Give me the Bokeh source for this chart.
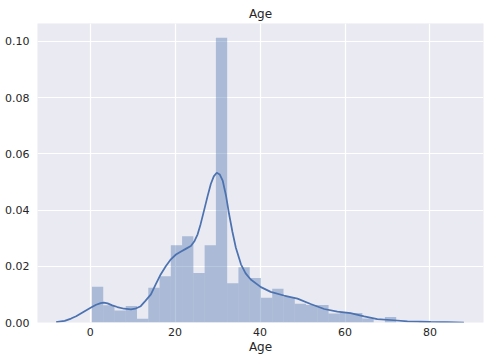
import numpy as np
from bokeh.plotting import figure
from bokeh.models import Range1d, FixedTicker, NumeralTickFormatter
from bokeh.embed import file_html
from bokeh.resources import INLINE

# Histogram (density) of Age, 30 bins from 0.42 to 80
bin_min = 0.42
bin_max = 80.0
n_bins = 30
density = [0.0127, 0.0061, 0.0043, 0.0059, 0.0013, 0.0124, 0.0165, 0.0275, 0.0307, 0.0176,
           0.0275, 0.1013, 0.0140, 0.0197, 0.0158, 0.0088, 0.0120, 0.0091, 0.0067, 0.0062,
           0.0062, 0.0032, 0.0035, 0.0034, 0.0014, 0.0, 0.0020, 0.0, 0.0, 0.0004]

# KDE curve
kde_x = [-8.0, -7.7, -6.0, -4.5, -3.3, -2.2, -1.0, 0.2, 1.4, 2.5, 3.2, 4.1, 5.2, 6.4, 8.0, 9.6,
         10.6, 11.9, 13.0, 14.3, 15.4, 16.6, 17.8, 19.0, 20.2, 21.3, 22.5, 23.7, 24.5, 25.3,
         26.0, 26.8, 27.6, 28.4, 29.1, 29.8, 30.5, 31.2, 32.0, 32.7, 33.5, 34.3, 35.5, 36.6,
         37.8, 40.2, 42.5, 45.6, 48.8, 51.9, 55.1, 58.2, 61.3, 64.5, 67.6, 71.5, 74.7, 80.2,
         84.0, 88.0]
kde_y = [0.0001, 0.0002, 0.0006, 0.0014, 0.0022, 0.0032, 0.0043, 0.0053, 0.0063, 0.0069, 0.0071,
         0.0068, 0.0061, 0.0055, 0.0049, 0.0047, 0.0049, 0.0058, 0.0077, 0.0100, 0.0135, 0.0171,
         0.0200, 0.0225, 0.0242, 0.0252, 0.0262, 0.0272, 0.0288, 0.0314, 0.0350, 0.0398, 0.0447,
         0.0493, 0.0520, 0.0533, 0.0527, 0.0505, 0.0450, 0.0386, 0.0322, 0.0266, 0.0207, 0.0175,
         0.0153, 0.0126, 0.0109, 0.0096, 0.0085, 0.0066, 0.0048, 0.0039, 0.0033, 0.0022, 0.0012,
         0.0008, 0.0004, 0.0002, 0.0001, 0.0]

x_ticks = [0, 20, 40, 60, 80]
y_ticks = [0.0, 0.02, 0.04, 0.06, 0.08, 0.10]

edges = np.linspace(bin_min, bin_max, n_bins + 1)

BLUE = "#4C72B0"
TXT = "#262626"
FONT = "DejaVu Sans"

p = figure(width=490, height=360, output_backend="svg", toolbar_location=None,
           x_range=Range1d(-12.4, 92.6), y_range=Range1d(0, 0.1064),
           min_border_left=37, min_border_right=7, min_border_top=23, min_border_bottom=38,
           title="Age")
p.background_fill_color = "#EAEAF2"
p.border_fill_color = "white"
p.outline_line_color = None

p.title.align = "center"
p.title.text_font = FONT
p.title.text_font_size = "12px"
p.title.text_font_style = "normal"
p.title.text_color = TXT
p.title.standoff = 6

p.quad(left=edges[:-1], right=edges[1:], bottom=0, top=density,
       fill_color=BLUE, fill_alpha=0.4, line_color=None)
p.line(kde_x, kde_y, line_color=BLUE, line_width=1.75)

for g in (p.xgrid, p.ygrid):
    g.grid_line_color = "white"
    g.grid_line_width = 1.2
p.xgrid.ticker = FixedTicker(ticks=x_ticks)
p.ygrid.ticker = FixedTicker(ticks=y_ticks)

p.xaxis.ticker = FixedTicker(ticks=x_ticks)
p.yaxis.ticker = FixedTicker(ticks=y_ticks)
p.yaxis.formatter = NumeralTickFormatter(format="0.00")
for ax in (p.xaxis, p.yaxis):
    ax.axis_line_color = None
    ax.major_tick_line_color = None
    ax.minor_tick_line_color = None
    ax.major_tick_out = 0
    ax.major_tick_in = 0
    ax.minor_tick_out = 0
    ax.major_label_text_font = FONT
    ax.major_label_text_font_size = "11px"
    ax.major_label_text_color = TXT
p.xaxis.major_label_standoff = 5
p.yaxis.major_label_standoff = 8
p.xaxis.axis_label = "Age"
p.xaxis.axis_label_text_font = FONT
p.xaxis.axis_label_text_font_size = "12px"
p.xaxis.axis_label_text_font_style = "normal"
p.xaxis.axis_label_text_color = TXT
p.xaxis.axis_label_standoff = 1

open("out.html", "w").write(file_html(p, INLINE))
